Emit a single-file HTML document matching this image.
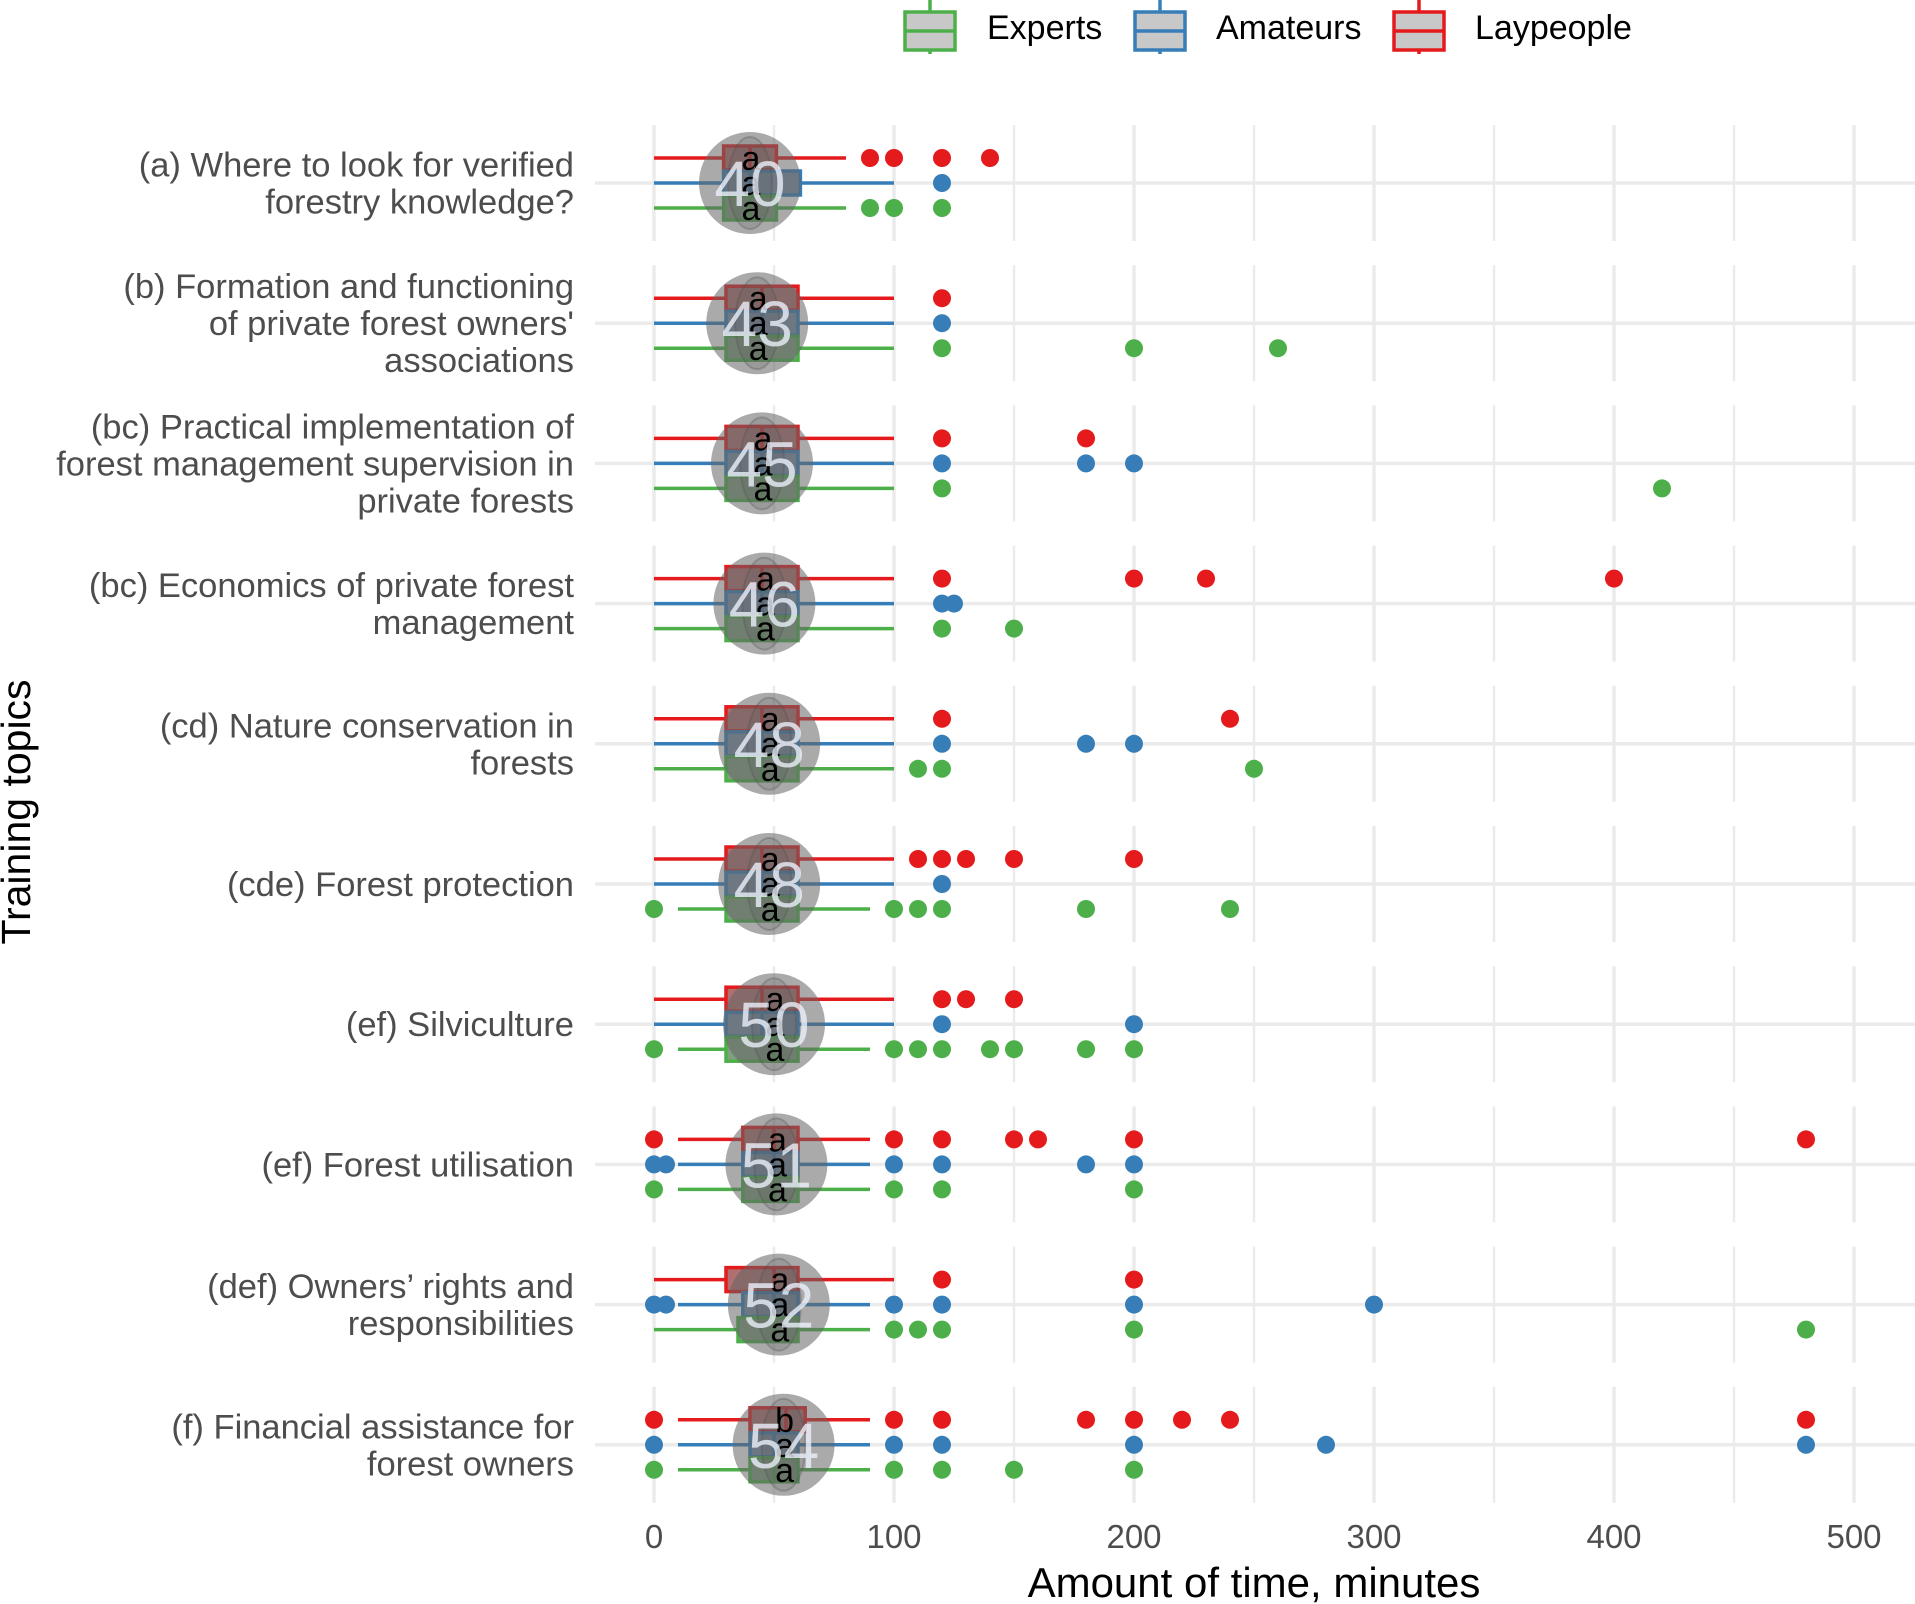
<!DOCTYPE html>
<html><head><meta charset="utf-8"><style>
body{margin:0;background:#fff;}
svg{display:block;font-family:"Liberation Sans",sans-serif;}
</style></head><body>
<svg id="chart" width="1915" height="1604" viewBox="0 0 1915 1604">
<g id="grid"></g>
<g id="marks"></g>
<g id="ylabels"></g>
<g id="xlabels"></g>
<text x="1254" y="1597" font-size="42" text-anchor="middle" fill="#000">Amount of time, minutes</text>
<text transform="translate(30,812) rotate(-90)" font-size="41" text-anchor="middle" fill="#000">Training topics</text>
<g id="legend"></g>
</svg>
<script>
const topics=[["(a) Where to look for verified","forestry knowledge?"],["(b) Formation and functioning","of private forest owners'","associations"],["(bc) Practical implementation of","forest management supervision in","private forests"],["(bc) Economics of private forest","management"],["(cd) Nature conservation in","forests"],["(cde) Forest protection"],["(ef) Silviculture"],["(ef) Forest utilisation"],["(def) Owners’ rights and","responsibilities"],["(f) Financial assistance for","forest owners"]];
const means=[40,43,45,46,48,48,50,51,52,54];
// each group: [whiskerLow, q1, median, q3, whiskerHigh]
const layStats=[[0,29,40,51,80],[0,30,45,60,100],[0,30,45,60,100],[0,30,45,60,100],[0,30,45,60,100],[0,30,45,60,100],[0,30,45,60,100],[10,37,50,60,90],[0,30,50,60,100],[10,40,55,63,90]];
const amaStats=[[0,29,40,61,100],[0,30,45,60,100],[0,30,45,60,100],[0,30,45,60,100],[0,30,45,60,100],[0,30,45,60,100],[0,30,45,60,100],[10,37,50,60,90],[10,37,50,60,90],[10,40,50,60,90]];
const expStats=[[0,29,40,51,80],[0,30,45,60,100],[0,30,45,60,100],[0,30,45,60,100],[0,30,45,60,100],[10,30,50,60,90],[10,30,50,60,90],[10,37,50,60,90],[0,35,50,60,90],[10,40,50,60,90]];
const layOut=[[90,100,120,140],[120],[120,180],[120,200,230,400],[120,240],[110,120,130,150,200],[120,130,150],[0,100,120,150,160,200,480],[120,200],[0,100,120,180,200,220,240,480]];
const amaOut=[[120],[120],[120,180,200],[120,125],[120,180,200],[120],[120,200],[0,5,100,120,180,200],[0,5,100,120,200,300],[0,100,120,200,280,480]];
const expOut=[[90,100,120],[120,200,260],[120,420],[120,150],[110,120,250],[0,100,110,120,180,240],[0,100,110,120,140,150,180,200],[0,100,120,200],[100,110,120,200,480],[0,100,120,150,200]];
const layLetters=["a","a","a","a","a","a","a","a","a","b"];
const amaLetters=["a","a","a","a","a","a","a","a","a","a"];
const expLetters=["a","a","a","a","a","a","a","a","a","a"];
const xTicks=[0,100,200,300,400,500];

const NS="http://www.w3.org/2000/svg";
function x(v){return 654+v*2.4;}
function rowY(i){return 183+i*140.2;}
function mk(tag,attrs,parent){const e=document.createElementNS(NS,tag);for(const k in attrs)e.setAttribute(k,attrs[k]);parent.appendChild(e);return e;}
const grid=document.getElementById('grid'),marks=document.getElementById('marks'),yl=document.getElementById('ylabels'),xl=document.getElementById('xlabels'),lg=document.getElementById('legend');
const GC="#ebebeb";
for(let i=0;i<topics.length;i++){
  const cy=rowY(i);
  const h=mk('line',{x1:595,x2:1915,y1:cy,y2:cy,stroke:GC,'stroke-width':3.5},grid);
  
  for(let v=0;v<=550;v+=50){
    const l=mk('line',{x1:x(v),x2:x(v),y1:cy-58,y2:cy+58,stroke:GC,'stroke-width':v%100===0?3.5:2.5},grid);
    
  }
  const g=topics[i];
  g.forEach((t,j)=>{
    const tx=mk('text',{x:574,y:cy+(j-(g.length-1)/2)*37+12,'font-size':34.5,'text-anchor':'end',fill:'#4d4d4d'},yl);
    tx.textContent=t;
    
  });
}
xTicks.forEach(v=>{
  const t=mk('text',{x:x(v),y:1548,'font-size':33,'text-anchor':'middle',fill:'#4d4d4d'},xl);
  t.textContent=v;
  
});
const groups=[{st:layStats,out:layOut,let:layLetters,c:"#E41A1C",dy:-25,name:'laypeople',f:'#b07070'},{st:amaStats,out:amaOut,let:amaLetters,c:"#377EB8",dy:0,name:'amateurs',f:'#7890a8'},{st:expStats,out:expOut,let:expLetters,c:"#4DAF4A",dy:25,name:'experts',f:'#80a080'}];
for(let i=0;i<topics.length;i++){
  const cy=rowY(i);
  const rg=mk('g',{},marks);
  
  groups.forEach(G=>{
    const s=G.st[i],y=cy+G.dy;
    const w1=mk('line',{x1:x(s[0]),x2:x(s[1]),y1:y,y2:y,stroke:G.c,'stroke-width':3.5},rg);
    
    const w2=mk('line',{x1:x(s[3]),x2:x(s[4]),y1:y,y2:y,stroke:G.c,'stroke-width':3.5},rg);
    
    const b=mk('rect',{x:x(s[1]),y:y-12,width:x(s[3])-x(s[1]),height:24,fill:G.f,stroke:G.c,'stroke-width':3.5},rg);
    
    const m=mk('line',{x1:x(s[2]),x2:x(s[2]),y1:y-12,y2:y+12,stroke:G.c,'stroke-width':3.5},rg);
    
    G.out[i].forEach(v=>{
      const c=mk('circle',{cx:x(v),cy:y,r:9,fill:G.c},rg);
      
    });
  });
  const mx=x(means[i]);
  const e1=mk('ellipse',{cx:mx,cy:cy,rx:51,ry:51,fill:'rgba(100,100,100,0.55)'},rg);
  
  const e2=mk('ellipse',{cx:mx,cy:cy,rx:22,ry:46,fill:'rgba(90,90,90,0.2)',stroke:'rgba(80,80,80,0.3)','stroke-width':2},rg);
  
  groups.forEach(G=>{
    const t=mk('text',{x:mx+1,y:cy+G.dy+12,'font-size':34,'text-anchor':'middle',fill:'#000'},rg);
    t.textContent=G.let[i];
    
  });
  const n=mk('text',{x:mx,y:cy+23,'font-size':64,'text-anchor':'middle',fill:'rgba(235,240,250,0.8)'},rg);
  n.textContent=means[i];
  
}
const legItems=[["Experts","#4DAF4A",903,987],["Amateurs","#377EB8",1133,1216],["Laypeople","#E41A1C",1392,1475]];
legItems.forEach(L=>{
  const g=mk('g',{},lg);
  
  const cx=L[2]+27;
  mk('line',{x1:cx,x2:cx,y1:0,y2:54,stroke:L[1],'stroke-width':3.5},g);
  mk('rect',{x:L[2]+2,y:12,width:50,height:38,fill:'#c8c8c8',stroke:L[1],'stroke-width':3.5},g);
  mk('line',{x1:L[2]+2,x2:L[2]+52,y1:31,y2:31,stroke:L[1],'stroke-width':3.5},g);
  const t=mk('text',{x:L[3],y:39,'font-size':34,fill:'#000'},g);
  t.textContent=L[0];
});
</script>
</body></html>
